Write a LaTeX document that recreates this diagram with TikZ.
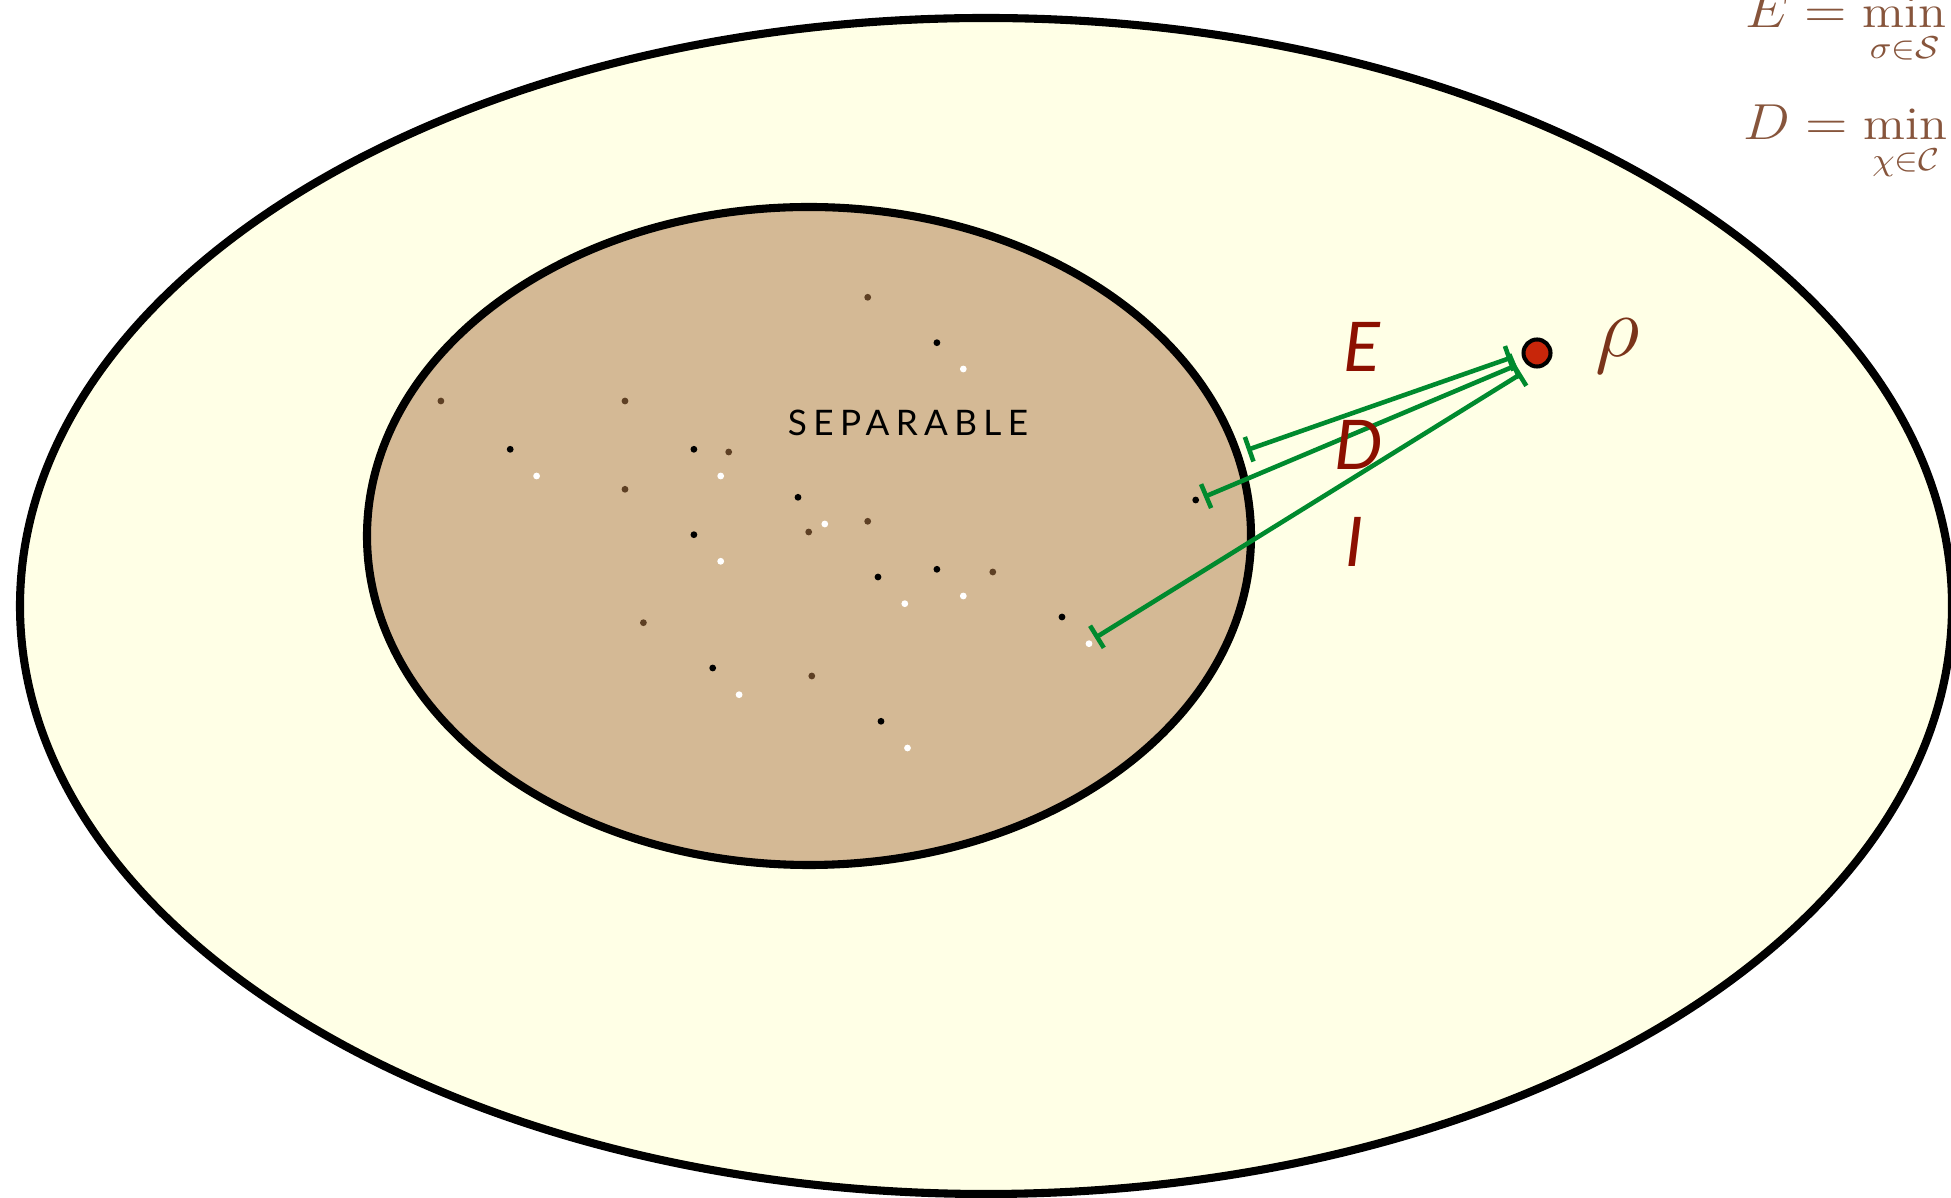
\documentclass[tikz,border=0pt]{standalone}
\usepackage{fontspec}
\usepackage{amsmath}
\usetikzlibrary{arrows.meta, calc}
\newfontfamily\labelfont{Lato}
\newfontfamily\sepfont[LetterSpace=18]{Lato}
\definecolor{outerfill}{RGB}{255,255,230}
\definecolor{sepfill}{RGB}{212,185,149}
\definecolor{dotbrown}{RGB}{94,64,36}
\definecolor{distgreen}{RGB}{0,138,46}
\definecolor{labelred}{RGB}{140,16,0}
\definecolor{rhobrown}{RGB}{122,52,26}
\definecolor{rhored}{RGB}{200,38,10}
\definecolor{formulabrown}{RGB}{135,85,60}

\begin{document}
\begin{tikzpicture}[x=0.01cm, y=-0.01cm,
  region/.style={draw=black, line width=2.3pt},
  dist/.style={{Bar[width=0.26cm]}-{Bar[width=0.26cm]}, draw=distgreen, line width=1.3pt},
  lbl/.style={font=\labelfont\itshape\fontsize{19.5}{22}\selectfont, text=labelred},
  formula/.style={anchor=base west, text=formulabrown, inner sep=0pt,
                  font=\fontsize{13.3}{15}\selectfont},
]
  \useasboundingbox (0,0) rectangle (1951,1198);
  \clip (0,0) rectangle (1951,1198);
  \fill[white] (0,0) rectangle (1951,1198);

  % State sets
  \draw[region, fill=outerfill] (986,606) ellipse [x radius=966, y radius=588];
  \draw[region, fill=sepfill] (809,536) ellipse [x radius=442, y radius=329];

  % Sample states
  \foreach \px/\py in {867.7/297.3, 440.9/401, 625/401, 728.7/452, 625/489.3,
                       808.7/532, 867.7/521.3, 992.8/572, 643.4/622.7, 811.8/676}
    \fill[dotbrown] (\px,\py) circle [radius=3.4];
  \foreach \px/\py in {936.9/342.7, 510.2/449.3, 693.9/449.3, 798/497.3, 693.9/534.7,
                       878/577, 936.9/569.3, 712.7/668, 881/721.3, 1195.7/500, 1062/617}
    \fill[black] (\px,\py) circle [radius=3.4];
  \foreach \px/\py in {963.3/369, 536.6/476, 720.7/476, 824.8/524, 720.7/561.3,
                       904.8/603.7, 963.3/596, 739.1/694.7, 907.5/748, 1089/643.7}
    \fill[white] (\px,\py) circle [radius=3.4];

  \node[font=\sepfont\fontsize{10}{12}\selectfont] (sep) at (908,423) {SEPARABLE};

  % Entangled state and its distances
  \node[circle, draw=black, line width=1.15pt, fill=rhored, minimum size=0.27cm,
        inner sep=0pt] (rho) at (1537,353) {};
  \node[text=rhobrown, font=\fontsize{27}{30}\selectfont] (rholbl) at (1618,346) {$\rho$};

  \coordinate (sE) at ($(rho)+(-25.6,4.6)$);
  \coordinate (sD) at ($(rho)+(-20.6,12.3)$);
  \coordinate (sI) at ($(rho)+(-15.6,20.6)$);
  \coordinate (eE) at (1247,450);
  \coordinate (eD) at (1204,497);
  \coordinate (eI) at (1095,638);

  \draw[dist] (sE) -- (eE);
  \draw[dist] (sD) -- (eD);
  \draw[dist] (sI) -- (eI);

  \node[lbl] (lE) at (1362,347) {E};
  \node[lbl] (lD) at (1359,445) {D};
  \node[lbl] (lI) at (1355,542) {I};

  % Definitions
  \node[formula] (fE) at (1745,28)
    {\scalebox{1.1}[1]{$\displaystyle E=\min_{\sigma\in\mathcal{S}}$}};
  \node[formula] (fD) at (1743,140)
    {\scalebox{1.1}[1]{$\displaystyle D=\min_{\chi\in\mathcal{C}}$}};
\end{tikzpicture}
\end{document}
